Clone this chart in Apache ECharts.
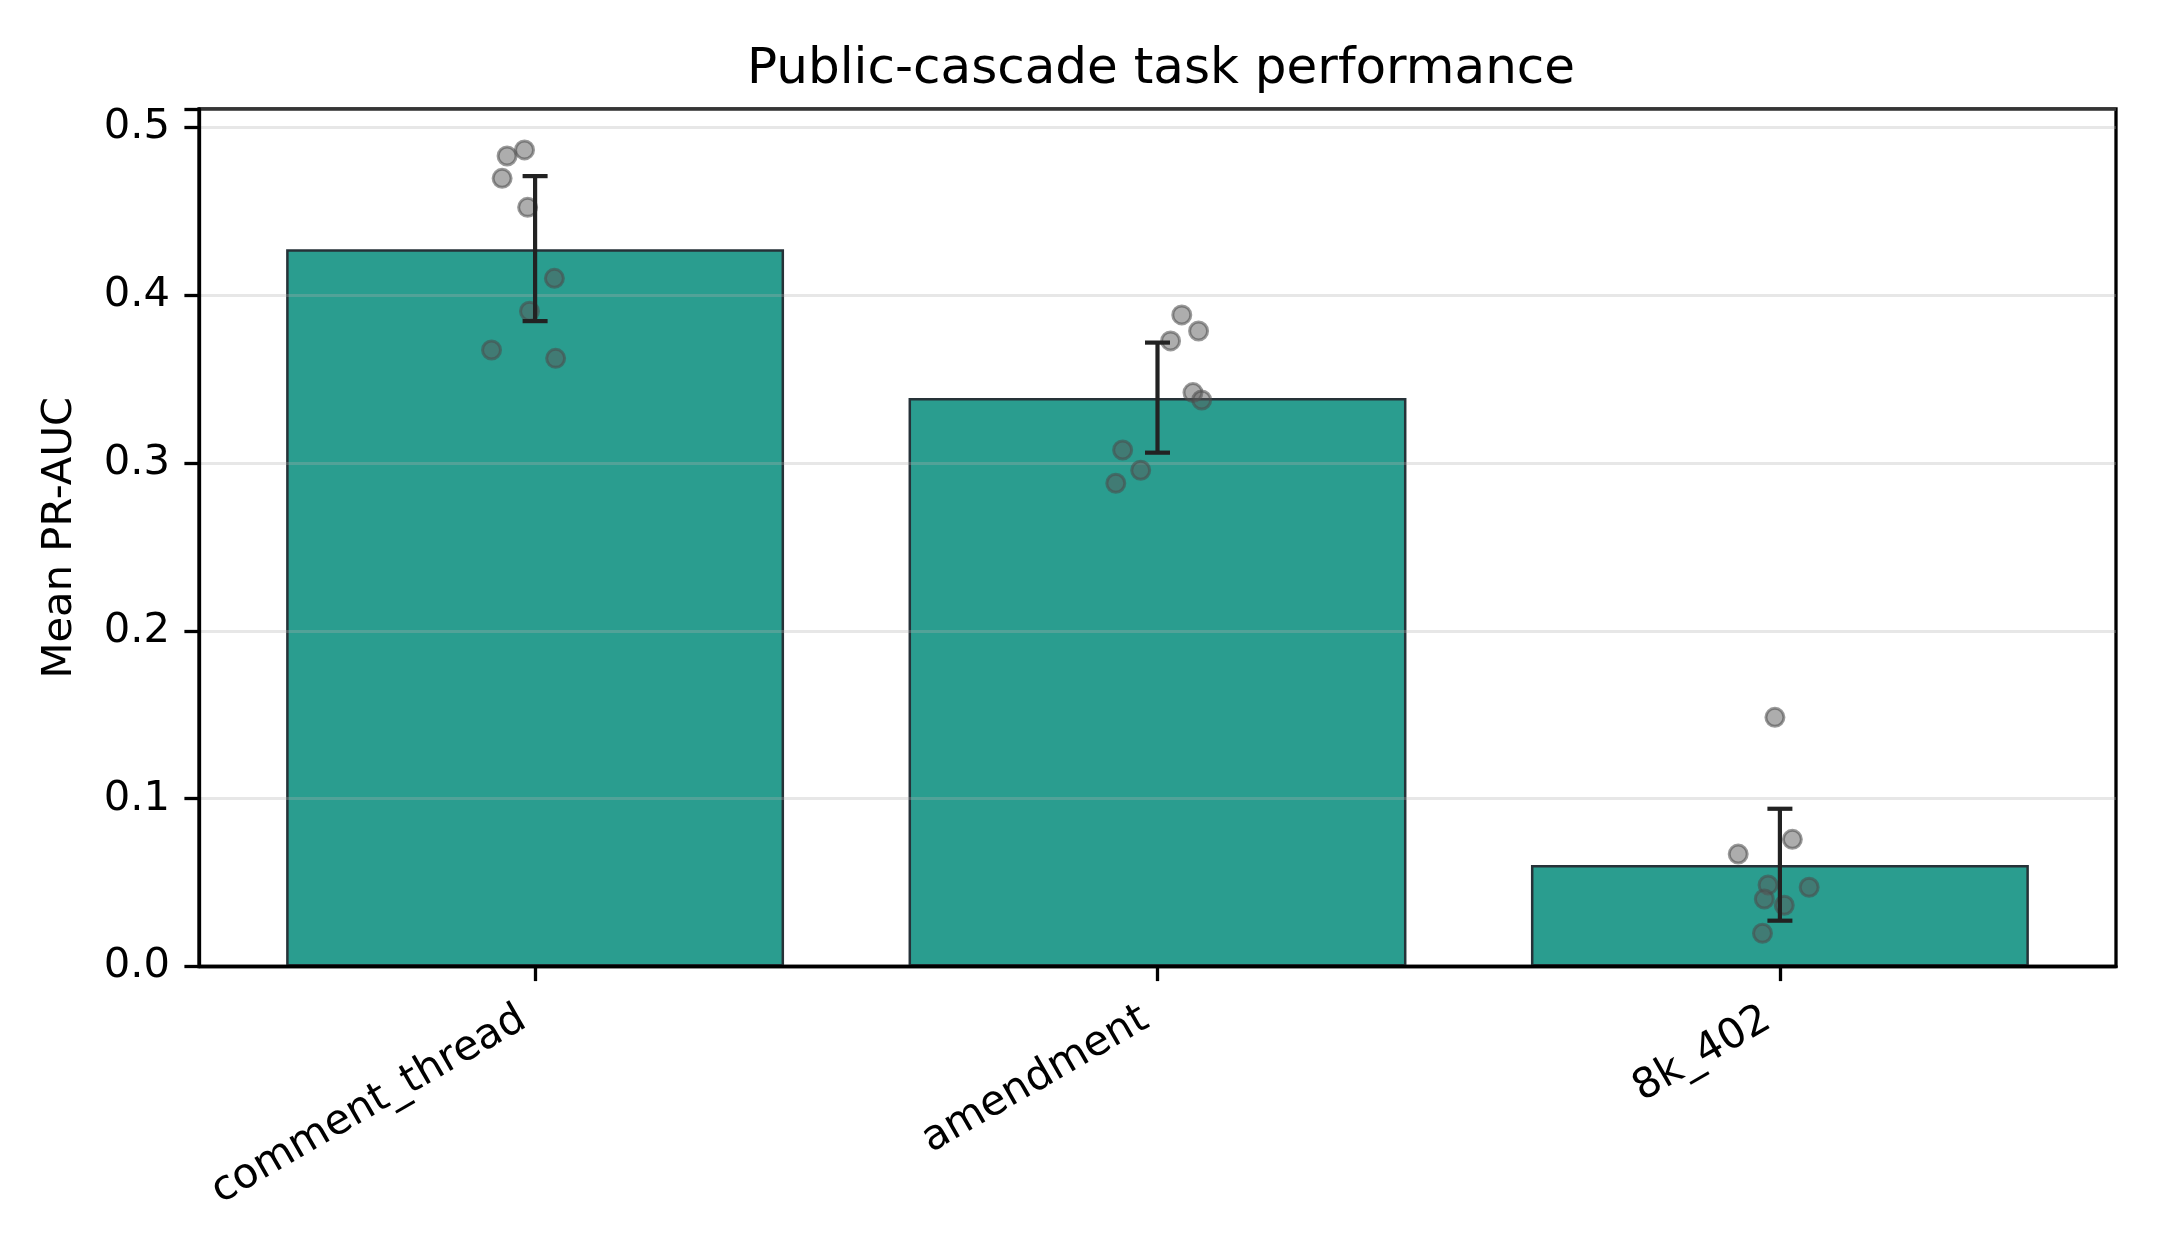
<!DOCTYPE html>
<html>
<head>
<meta charset="utf-8">
<script src="https://cdn.jsdelivr.net/npm/echarts@6/dist/echarts.min.js"></script>
<style>
html,body{margin:0;padding:0;background:#fff;}
#chart{width:2160px;height:1260px;}
</style>
</head>
<body>
<div id="chart"></div>
<script>
const categories = ['comment_thread', 'amendment', '8k_402'];
const meanValues = [0.4274, 0.3388, 0.0605];
const errLow = [0.3846, 0.3062, 0.0273];
const errHigh = [0.4710, 0.3718, 0.0940];
const pointsCommentThread = [0.4866, 0.4830, 0.4697, 0.4524, 0.4101, 0.3905, 0.3674, 0.3624];
const jitterCommentThread = [-0.017, -0.045, -0.053, -0.012, 0.031, -0.009, -0.070, 0.033];
const pointsAmendment = [0.3883, 0.3787, 0.3728, 0.3420, 0.3376, 0.3078, 0.2957, 0.2880];
const jitterAmendment = [0.039, 0.066, 0.021, 0.057, 0.071, -0.056, -0.027, -0.067];
const points8k402 = [0.1485, 0.0758, 0.0670, 0.0486, 0.0472, 0.0402, 0.0365, 0.0198];
const jitter8k402 = [-0.008, 0.020, -0.067, -0.019, 0.047, -0.025, 0.007, -0.028];
const yTicks = [0.0, 0.1, 0.2, 0.3, 0.4, 0.5];

const allPoints = [pointsCommentThread, pointsAmendment, points8k402];
const allJitter = [jitterCommentThread, jitterAmendment, jitter8k402];
const scatterData = [];
allPoints.forEach((arr, i) => arr.forEach((v, k) => scatterData.push([i + allJitter[i][k], v])));
const errData = categories.map((c, i) => [i, errLow[i], errHigh[i]]);

const FONT = 'DejaVu Sans';
const LW = 3.3;
const XMIN = -0.54, XMAX = 2.54, YMAX = 0.511;
const gridL = 199, gridR = 44, gridT = 109, gridB = 293.5;
const unit = (2160 - gridL - gridR) / (XMAX - XMIN);

const chart = echarts.init(document.getElementById('chart'), null, {renderer: 'canvas'});
chart.setOption({
  animation: false,
  backgroundColor: '#ffffff',
  title: {
    text: 'Public-cascade task performance',
    left: 742,
    top: 40,
    textStyle: {fontFamily: FONT, fontSize: 50, fontWeight: 'normal', color: '#000'}
  },
  grid: [
    {left: gridL, right: gridR, top: gridT, bottom: gridB, show: true, borderColor: '#000', borderWidth: LW, backgroundColor: 'transparent'},
    {left: gridL + (-0.5 - XMIN) * unit, right: gridR + (XMAX - 2.5) * unit, top: gridT, bottom: gridB}
  ],
  xAxis: [
    {
      gridIndex: 0, type: 'value', min: XMIN, max: XMAX, z: 2.5,
      axisLine: {show: true, onZero: false, lineStyle: {color: '#000', width: LW}},
      axisTick: {show: false}, axisLabel: {show: false}, splitLine: {show: false}
    },
    {
      gridIndex: 1, type: 'category', data: categories, boundaryGap: true, z: 2.5,
      axisLine: {show: false},
      axisTick: {show: true, alignWithLabel: true, length: 14.6, lineStyle: {color: '#000', width: LW}},
      axisLabel: {
        show: true, rotate: 30, margin: 43, interval: 0,
        fontFamily: FONT, fontSize: 41.7, color: '#000',
        padding: [0, 14, 0, 0]
      },
      splitLine: {show: false}
    }
  ],
  yAxis: [
    {
      gridIndex: 0, type: 'value', min: 0, max: YMAX, interval: 0.1, z: 2.5,
      name: 'Mean PR-AUC', nameLocation: 'middle', nameGap: 118,
      nameTextStyle: {fontFamily: FONT, fontSize: 41.7, color: '#000'},
      axisLine: {show: true, onZero: false, lineStyle: {color: '#000', width: LW}},
      axisTick: {show: true, length: 14.6, lineStyle: {color: '#000', width: LW}},
      axisLabel: {
        show: true, margin: 29, fontFamily: FONT, fontSize: 41.7, color: '#000',
        formatter: function (v) {
          const r = Math.round(v * 10) / 10;
          return yTicks.some(t => Math.abs(t - v) < 1e-6) ? r.toFixed(1) : '';
        }
      },
      splitLine: {show: true, lineStyle: {color: 'rgba(176,176,176,0.3)', width: 3}}
    },
    {gridIndex: 1, type: 'value', min: 0, max: YMAX, show: false}
  ],
  series: [
    {
      type: 'bar', xAxisIndex: 1, yAxisIndex: 1, data: meanValues, barWidth: '80%', z: 2,
      itemStyle: {color: '#2a9d8f', borderColor: '#263238', borderWidth: 2.5}
    },
    {
      type: 'scatter', xAxisIndex: 0, yAxisIndex: 0, data: scatterData, z: 3,
      symbol: 'circle', symbolSize: 18,
      itemStyle: {color: 'rgba(90,90,90,0.62)', borderColor: 'rgba(75,75,75,0.7)', borderWidth: 3}
    },
    {
      type: 'custom', xAxisIndex: 0, yAxisIndex: 0, data: errData, z: 4,
      renderItem: function (params, api) {
        const x = api.value(0);
        const lo = api.coord([x, api.value(1)]);
        const hi = api.coord([x, api.value(2)]);
        const cap = 12.5;
        const st = {stroke: '#222', lineWidth: 4.2};
        return {
          type: 'group',
          children: [
            {type: 'line', shape: {x1: lo[0], y1: lo[1], x2: hi[0], y2: hi[1]}, style: st},
            {type: 'line', shape: {x1: lo[0] - cap, y1: lo[1], x2: lo[0] + cap, y2: lo[1]}, style: st},
            {type: 'line', shape: {x1: hi[0] - cap, y1: hi[1], x2: hi[0] + cap, y2: hi[1]}, style: st}
          ]
        };
      }
    }
  ]
});
</script>
</body>
</html>
